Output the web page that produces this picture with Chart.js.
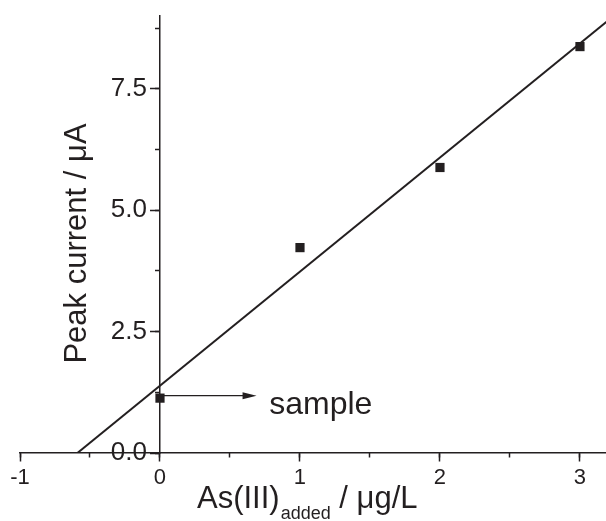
<!DOCTYPE html>
<html>
<head>
<meta charset="utf-8">
<script src="https://cdn.jsdelivr.net/npm/chart.js@4/dist/chart.umd.min.js"></script>
<style>
  html, body { margin: 0; padding: 0; background: #ffffff; }
  #wrap { width: 606px; height: 521px; position: relative; }
</style>
</head>
<body>
<div id="wrap"><canvas id="c" width="606" height="521"></canvas></div>
<script>
// ---- data ----
const addedConc = [0, 1, 2, 3];                 // As(III) added / µg/L
const peakCurrent = [1.13, 4.23, 5.88, 8.37];    // Peak current / µA
const fitX = [-0.59, 3.19];                      // fitted line end points (x)
const fitY = [0, 8.88];                          // fitted line end points (y)
const xTickValues = [-1, 0, 1, 2, 3];
const yTickLabels = ['0.0', '2.5', '5.0', '7.5'];

const INK = '#231f20';
const FONT = '"Liberation Sans", Arial, Helvetica, sans-serif';

const annotationPlugin = {
  id: 'annot',
  afterDraw(chart) {
    const ctx = chart.ctx;
    const xs = chart.scales.x, ys = chart.scales.y;
    ctx.save();
    ctx.fillStyle = INK;
    ctx.strokeStyle = INK;

    // arrow from the sample point to the label
    const ay = ys.getPixelForValue(1.18);
    const ax0 = xs.getPixelForValue(0);
    const ax1 = xs.getPixelForValue(0.69);
    ctx.lineWidth = 1.2;
    ctx.beginPath();
    ctx.moveTo(ax0, ay);
    ctx.lineTo(ax1 - 10, ay);
    ctx.stroke();
    ctx.beginPath();
    ctx.moveTo(ax1, ay);
    ctx.lineTo(ax1 - 14, ay - 3.5);
    ctx.lineTo(ax1 - 14, ay + 3.5);
    ctx.closePath();
    ctx.fill();

    // "sample" label
    ctx.font = '32px ' + FONT;
    ctx.textAlign = 'left';
    ctx.textBaseline = 'alphabetic';
    ctx.fillText('sample', xs.getPixelForValue(0.78), ys.getPixelForValue(0.80));

    // y axis title
    ctx.save();
    ctx.translate(86, 243.5);
    ctx.rotate(-Math.PI / 2);
    ctx.textAlign = 'center';
    ctx.textBaseline = 'alphabetic';
    ctx.font = '31px ' + FONT;
    ctx.fillText('Peak current / \u03bcA', 0, 0);
    ctx.restore();

    // x axis title with subscript
    let x = 197;
    const base = 508;
    ctx.textAlign = 'left';
    ctx.textBaseline = 'alphabetic';
    ctx.font = '31px ' + FONT;
    ctx.fillText('As(III)', x, base);
    x += ctx.measureText('As(III)').width + 1;
    ctx.font = '18px ' + FONT;
    ctx.fillText('added', x, base + 11);
    x += ctx.measureText('added').width;
    ctx.font = '31px ' + FONT;
    ctx.fillText(' / \u03bcg/L', x, base);
    ctx.restore();
  }
};

const tickGrid = (len) => ({ drawOnChartArea: false, drawTicks: true, tickLength: len, tickWidth: 1.5, tickColor: INK, color: INK });
const noPadding = (s) => { s.paddingLeft = 0; s.paddingRight = 0; s.paddingTop = 0; s.paddingBottom = 0; };
// shift y tick labels left of the tick marks (axis is positioned at x = 0)
const shiftYLabels = (shift) => (s) => {
  if (s._labelShiftPatched) return;
  const orig = s._computeLabelItems.bind(s);
  s._computeLabelItems = (ca) => {
    const items = orig(ca);
    items.forEach(it => { it.options.translation[0] += shift; });
    return items;
  };
  s._labelShiftPatched = true;
};

new Chart(document.getElementById('c'), {
  type: 'scatter',
  data: {
    datasets: [
      {
        label: 'fit',
        type: 'line',
        data: fitX.map((v, i) => ({ x: v, y: fitY[i] })),
        borderColor: INK,
        borderWidth: 2,
        pointRadius: 0,
        fill: false,
        xAxisID: 'x', yAxisID: 'y'
      },
      {
        label: 'data',
        data: addedConc.map((v, i) => ({ x: v, y: peakCurrent[i] })),
        pointStyle: 'rect',
        pointRadius: 6.5,
        pointHoverRadius: 6.5,
        backgroundColor: INK,
        borderColor: INK,
        borderWidth: 0,
        xAxisID: 'x', yAxisID: 'y'
      }
    ]
  },
  options: {
    responsive: false,
    animation: false,
    events: [],
    layout: { autoPadding: false, padding: { left: 20, right: 0, top: 16, bottom: 68 } },
    plugins: { legend: { display: false }, tooltip: { enabled: false } },
    scales: {
      x: {
        type: 'linear', min: -1, max: 3.186, position: { y: 0 },
        afterBuildTicks: (s) => { s.ticks = xTickValues.map(v => ({ value: v })); },
        afterFit: noPadding,
        ticks: { font: { family: FONT, size: 22 }, color: INK, padding: 4, callback: (v) => String(v) },
        grid: tickGrid(8),
        border: { display: true, color: INK, width: 1.5 }
      },
      xMinor: {
        type: 'linear', min: -1, max: 3.186, position: { y: 0 },
        afterFit: noPadding,
        ticks: { display: false, stepSize: 0.5, includeBounds: false },
        grid: tickGrid(4.5),
        border: { display: false }
      },
      y: {
        type: 'linear', min: 0, max: 9, position: { x: 0 },
        afterBuildTicks: (s) => { s.ticks = yTickLabels.map(t => ({ value: parseFloat(t) })); },
        afterFit: noPadding,
        afterUpdate: shiftYLabels(-13),
        ticks: { font: { family: FONT, size: 26 }, color: INK, padding: 6, callback: (v) => yTickLabels.find(t => parseFloat(t) === v) },
        grid: tickGrid(9),
        border: { display: true, color: INK, width: 1.5 }
      },
      yMinor: {
        type: 'linear', min: 0, max: 9, position: { x: 0 },
        afterFit: noPadding,
        ticks: { display: false, stepSize: 1.25, includeBounds: false },
        grid: tickGrid(5),
        border: { display: false }
      }
    }
  },
  plugins: [annotationPlugin]
});
</script>
</body>
</html>
